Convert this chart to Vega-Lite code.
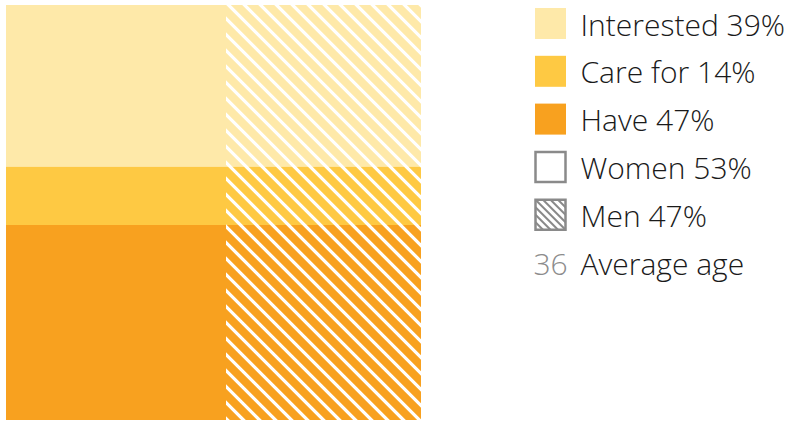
{
  "$schema": "https://vega.github.io/schema/vega-lite/v6.json",
  "background": "white",
  "padding": {"left": 6, "top": 5, "right": 0, "bottom": 0},
  "config": {"view": {"stroke": null}},
  "datasets": {
    "cells": [
      {"gender": "Women", "category": "Interested", "share": 39},
      {"gender": "Women", "category": "Care for", "share": 14},
      {"gender": "Women", "category": "Have", "share": 47},
      {"gender": "Men", "category": "Interested", "share": 39},
      {"gender": "Men", "category": "Care for", "share": 14},
      {"gender": "Men", "category": "Have", "share": 47}
    ],
    "legend": [
      {"key": "Interested", "label": "Interested 39%"},
      {"key": "Care for", "label": "Care for 14%"},
      {"key": "Have", "label": "Have 47%"},
      {"key": "Women", "label": "Women 53%"},
      {"key": "Men", "label": "Men 47%"},
      {"key": "Average age", "label": "Average age", "value": "36"}
    ]
  },
  "resolve": {"scale": {"x": "independent", "y": "independent"}},
  "spacing": 109,
  "hconcat": [
    {
      "spacing": 0,
      "resolve": {"scale": {"x": "independent", "y": "independent"}},
      "hconcat": [
        {
          "width": 220,
          "height": 415,
          "data": {"name": "cells"},
          "transform": [
            {"filter": "datum.gender === 'Women'"},
            {"stack": "share", "groupby": ["gender"], "as": ["y0", "y1"]}
          ],
          "mark": {"type": "bar"},
          "encoding": {
            "x": {"field": "gender", "type": "nominal", "axis": null, "scale": {"paddingInner": 0, "paddingOuter": 0}},
            "y": {"field": "y0", "type": "quantitative", "axis": null, "scale": {"domain": [0, 100], "reverse": true, "nice": false}},
            "y2": {"field": "y1"},
            "color": {"field": "category", "type": "nominal", "scale": {"domain": ["Interested", "Care for", "Have"], "range": ["#FEE9A9", "#FEC943", "#F8A11F"]}, "legend": null}
          }
        },
        {
          "width": 195,
          "height": 415,
          "data": {"name": "cells"},
          "transform": [{"filter": "datum.gender === 'Men'"}],
          "encoding": {
            "x": {"field": "gender", "type": "nominal", "axis": null, "scale": {"paddingInner": 0, "paddingOuter": 0}}
          },
          "layer": [
            {
              "transform": [{"stack": "share", "groupby": ["gender"], "as": ["y0", "y1"]}],
              "mark": {"type": "bar"},
              "encoding": {
                "y": {"field": "y0", "type": "quantitative", "axis": null, "scale": {"domain": [0, 100], "reverse": true, "nice": false}},
                "y2": {"field": "y1"},
                "color": {"field": "category", "type": "nominal", "scale": {"domain": ["Interested", "Care for", "Have"], "range": ["#FEE9A9", "#FEC943", "#F8A11F"]}, "legend": null}
              }
            },
            {
              "transform": [{"filter": "datum.category === 'Have'"}],
              "mark": {
                "type": "point",
                "clip": true,
                "filled": false,
                "opacity": 1,
                "stroke": "white",
                "strokeWidth": 3.3,
                "size": 4,
                "shape": "M-539.5,-220l440,440M-523.5,-220l440,440M-507.5,-220l440,440M-491.5,-220l440,440M-475.5,-220l440,440M-459.5,-220l440,440M-443.5,-220l440,440M-427.5,-220l440,440M-411.5,-220l440,440M-395.5,-220l440,440M-379.5,-220l440,440M-363.5,-220l440,440M-347.5,-220l440,440M-331.5,-220l440,440M-315.5,-220l440,440M-299.5,-220l440,440M-283.5,-220l440,440M-267.5,-220l440,440M-251.5,-220l440,440M-235.5,-220l440,440M-219.5,-220l440,440M-203.5,-220l440,440M-187.5,-220l440,440M-171.5,-220l440,440M-155.5,-220l440,440M-139.5,-220l440,440M-123.5,-220l440,440M-107.5,-220l440,440M-91.5,-220l440,440M-75.5,-220l440,440M-59.5,-220l440,440M-43.5,-220l440,440M-27.5,-220l440,440M-11.5,-220l440,440M4.5,-220l440,440M20.5,-220l440,440M36.5,-220l440,440M52.5,-220l440,440M68.5,-220l440,440M84.5,-220l440,440M100.5,-220l440,440"
              },
              "encoding": {
                "y": {"datum": 50, "type": "quantitative"}
              }
            }
          ]
        }
      ]
    },
    {
      "width": 255,
      "height": 290,
      "data": {"name": "legend"},
      "encoding": {
        "y": {"field": "key", "type": "nominal", "axis": null, "scale": {"type": "point", "padding": 0, "domain": ["Interested", "Care for", "Have", "Women", "Men", "Average age"], "range": [18.5, 257.5]}}
      },
      "layer": [
        {
          "transform": [{"filter": "indexof(['Interested','Care for','Have'], datum.key) >= 0"}],
          "mark": {"type": "point", "shape": "square", "size": 961, "filled": true, "opacity": 1},
          "encoding": {
            "x": {"datum": "symbol", "type": "nominal", "axis": null, "scale": {"type": "point", "padding": 0, "domain": ["symbol", "label"], "range": [15.5, 45.5]}},
            "color": {"field": "key", "type": "nominal", "scale": {"domain": ["Interested", "Care for", "Have"], "range": ["#FEE9A9", "#FEC943", "#F8A11F"]}, "legend": null}
          }
        },
        {
          "transform": [{"filter": "datum.key === 'Women' || datum.key === 'Men'"}],
          "mark": {"type": "point", "shape": "M-15,-15H15V15H-15Z", "size": 4, "filled": true, "fill": "white", "stroke": "#8a8a8a", "strokeWidth": 2.5, "opacity": 1},
          "encoding": {
            "x": {"datum": "symbol", "type": "nominal", "axis": null, "scale": {"type": "point", "padding": 0, "domain": ["symbol", "label"], "range": [15.5, 45.5]}}
          }
        },
        {
          "transform": [{"filter": "datum.key === 'Men'"}],
          "mark": {"type": "point", "shape": "M-15,-15L15,15M-7.5,-15L15,7.5M0,-15L15,0M7.5,-15L15,-7.5M-15,-7.5L7.5,15M-15,0L0,15M-15,7.5L-7.5,15", "size": 4, "filled": false, "stroke": "#8a8a8a", "strokeWidth": 2, "opacity": 1},
          "encoding": {
            "x": {"datum": "symbol", "type": "nominal", "axis": null, "scale": {"type": "point", "padding": 0, "domain": ["symbol", "label"], "range": [15.5, 45.5]}}
          }
        },
        {
          "mark": {"type": "text", "align": "left", "baseline": "alphabetic", "dy": 12, "font": "Open Sans", "fontSize": 30, "fontWeight": 300, "color": "#1a1a1a"},
          "encoding": {
            "x": {"datum": "label", "type": "nominal", "axis": null, "scale": {"type": "point", "padding": 0, "domain": ["symbol", "label"], "range": [15.5, 45.5]}},
            "text": {"field": "label"}
          }
        },
        {
          "transform": [{"filter": "datum.key === 'Average age'"}],
          "mark": {"type": "text", "align": "center", "baseline": "alphabetic", "dy": 12, "font": "Open Sans", "fontSize": 30, "fontWeight": 300, "color": "#8c8c8c"},
          "encoding": {
            "x": {"datum": "symbol", "type": "nominal", "axis": null, "scale": {"type": "point", "padding": 0, "domain": ["symbol", "label"], "range": [15.5, 45.5]}},
            "text": {"field": "value"}
          }
        }
      ]
    }
  ]
}
